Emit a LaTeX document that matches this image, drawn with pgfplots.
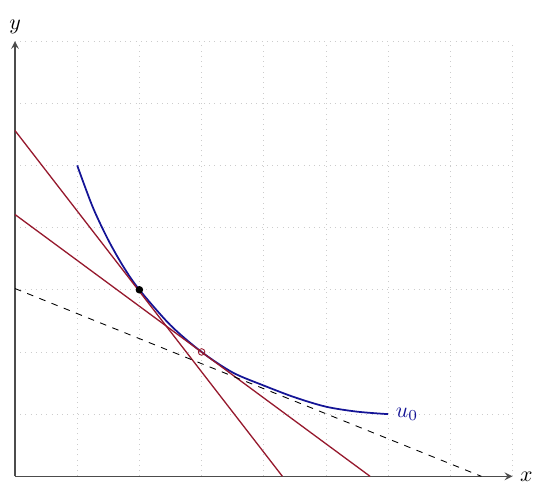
\documentclass[border=0pt]{standalone}
\usepackage{pgfplots}
\pgfplotsset{compat=1.18}

\definecolor{curveblue}{RGB}{20,20,150}
\definecolor{linered}{RGB}{150,25,45}

\begin{document}
\begin{tikzpicture}
% keep the same margins as the reference
\path (-0.21,-0.21) rectangle (8.43,7.66);
\begin{axis}[
    x=1cm, y=1cm,
    xmin=0, xmax=8,
    ymin=0, ymax=7,
    axis lines=left,
    axis line style={black!70, semithick},
    xtick={1,...,8}, ytick={1,...,7},
    xticklabels={}, yticklabels={},
    major tick length=0pt,
    grid=major,
    grid style={dotted, gray!40},
    clip=false,
]

% indifference curve u_0
\addplot[curveblue, thick, smooth] coordinates {
    (1,5) (1.25,4.33) (1.5,3.8) (1.75,3.36) (2,3) (2.5,2.43) (3,2)
    (3.5,1.67) (4,1.46) (4.5,1.27) (5,1.12) (5.5,1.04) (6,1.0)
};

% budget lines
\addplot[linered, semithick] coordinates {(0,5.56) (4.3,0)};
\addplot[linered, semithick] coordinates {(0,4.21) (5.71,0)};
\addplot[black, thin, dashed] coordinates {(0,3.02) (7.5,0)};

% points
\addplot[only marks, mark=*, mark size=1.5pt, black] coordinates {(2,3)};
\addplot[only marks, mark=o, mark size=1.5pt, linered, thin] coordinates {(3,2)};

\node[anchor=west, text=curveblue] at (axis cs:6,1) {$u_0$};
\node[anchor=west] at (axis cs:8,0) {$x$};
\node[anchor=south] at (axis cs:0,7) {$y$};

\end{axis}
\end{tikzpicture}
\end{document}
